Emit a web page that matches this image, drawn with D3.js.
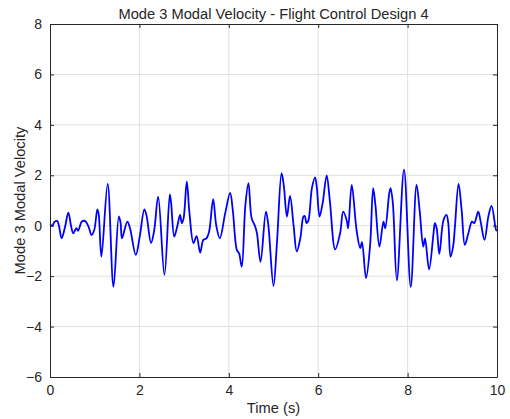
<!DOCTYPE html>
<html>
<head>
<meta charset="utf-8">
<script src="https://cdn.jsdelivr.net/npm/d3@7"></script>
<style>
  body { margin: 0; background: #fff; }
  text { font-family: "Liberation Sans", Arial, sans-serif; fill: #262626; }
</style>
</head>
<body>
<svg id="chart" width="510" height="419"></svg>
<script>
// time samples (s) and modal velocity
const time = [0.00,0.05,0.10,0.16,0.20,0.26,0.33,0.41,0.47,0.52,0.59,0.63,0.71,0.78,0.86,0.93,0.99,1.06,1.09,1.15,
  1.29,1.42,1.54,1.58,1.61,1.73,1.79,1.92,2.01,2.11,2.16,2.26,2.33,2.42,2.56,2.68,2.71,2.78,2.85,2.91,
  2.95,2.99,3.06,3.12,3.21,3.28,3.36,3.43,3.50,3.56,3.65,3.72,3.80,3.92,4.03,4.09,4.18,4.23,4.29,4.37,
  4.44,4.51,4.59,4.63,4.71,4.83,4.88,5.00,5.08,5.18,5.23,5.30,5.37,5.45,5.52,5.60,5.67,5.70,5.74,5.78,
  5.86,5.93,5.97,6.03,6.10,6.19,6.26,6.38,6.49,6.56,6.64,6.67,6.75,6.86,6.94,6.98,7.07,7.16,7.23,7.28,
  7.37,7.46,7.50,7.59,7.62,7.67,7.76,7.92,8.07,8.20,8.27,8.35,8.39,8.48,8.58,8.61,8.65,8.71,8.80,8.87,
  8.91,8.96,9.02,9.06,9.14,9.21,9.28,9.36,9.44,9.49,9.58,9.63,9.72,9.81,9.88,9.98,10.0];
const velocity = [0.05,0.0,0.15,0.19,0.0,-0.5,-0.1,0.52,0.0,-0.3,-0.1,-0.2,0.16,0.19,-0.03,-0.37,-0.17,0.65,0.45,-1.23,
  1.66,-2.42,0.37,0.1,-0.5,0.16,-0.1,-1.16,-0.4,0.65,0.4,-0.69,-0.2,1.15,-1.95,1.24,0.9,-0.43,0.0,0.43,
  0.1,0.3,1.75,0.5,-0.69,-0.41,-1.07,-0.56,-0.5,-0.23,1.05,0.0,-0.5,0.5,1.3,0.6,-0.96,-1.1,-1.62,0.8,
  1.69,0.3,-0.03,-0.3,-1.43,0.56,0.1,-2.39,-0.6,2.08,1.6,0.36,1.18,0.0,-1.02,-0.5,0.36,0.38,0.1,0.2,
  1.5,1.92,1.5,0.36,0.9,2.0,1.0,-0.94,-0.3,0.56,0.2,-0.1,1.62,-0.2,-0.89,-0.65,-2.08,-0.8,1.49,0.82,
  -0.83,0.16,-0.1,1.29,1.49,0.9,-2.17,2.22,-2.42,1.62,0.6,-0.83,-0.5,-1.73,-0.3,0.1,-0.1,-1.12,0.2,0.43,
  0.1,-1.23,-0.8,0.0,1.66,0.6,-0.76,-0.3,0.16,0.1,0.56,0.2,-0.56,0.4,0.79,-0.17,-0.2];
const xTicks = [0, 2, 4, 6, 8, 10];
const yTicks = [-6, -4, -2, 0, 2, 4, 6, 8];

const svg = d3.select("#chart");
const margin = { left: 50, right: 13, top: 24, bottom: 42 };
const width = 510, height = 419;

const x = d3.scaleLinear().domain([0, 10]).range([margin.left, width - margin.right]);
const y = d3.scaleLinear().domain([-6, 8]).range([height - margin.bottom, margin.top]);

// grid
const grid = svg.append("g").attr("stroke", "#dfdfdf").attr("stroke-width", 1);
grid.selectAll(".gx").data(xTicks.slice(1, -1)).enter().append("line")
  .attr("x1", d => x(d)).attr("x2", d => x(d))
  .attr("y1", y(-6)).attr("y2", y(8));
grid.selectAll(".gy").data(yTicks.slice(1, -1)).enter().append("line")
  .attr("x1", x(0)).attr("x2", x(10))
  .attr("y1", d => y(d)).attr("y2", d => y(d));

// signal
const line = d3.line()
  .x((d, i) => x(time[i]))
  .y(d => y(d))
  .curve(d3.curveCatmullRom.alpha(0.5));

svg.append("path")
  .datum(velocity)
  .attr("fill", "none")
  .attr("stroke", "#0000ff")
  .attr("stroke-width", 1.8)
  .attr("stroke-linejoin", "round")
  .attr("d", line);

// axes (ticks inside, box on)
const axisColor = "#262626";
function styleAxis(g) {
  g.select(".domain").attr("stroke", axisColor);
  g.selectAll(".tick line").attr("stroke", axisColor);
  g.selectAll(".tick text").style("font-size", "14px").attr("fill", axisColor);
}
svg.append("g").attr("transform", `translate(0,${y(-6)})`)
  .call(d3.axisBottom(x).tickValues(xTicks).tickSizeInner(-4).tickSizeOuter(0).tickPadding(8))
  .call(styleAxis);
svg.append("g").attr("transform", `translate(0,${y(8)})`)
  .call(d3.axisTop(x).tickValues(xTicks).tickSizeInner(-4).tickSizeOuter(0).tickFormat(""))
  .call(styleAxis);
svg.append("g").attr("transform", `translate(${x(0)},0)`)
  .call(d3.axisLeft(y).tickValues(yTicks).tickSizeInner(-4).tickSizeOuter(0).tickPadding(8))
  .call(styleAxis);
svg.append("g").attr("transform", `translate(${x(10)},0)`)
  .call(d3.axisRight(y).tickValues(yTicks).tickSizeInner(-4).tickSizeOuter(0).tickFormat(""))
  .call(styleAxis);

// labels
svg.append("text")
  .attr("x", (x(0) + x(10)) / 2).attr("y", 18.5)
  .attr("text-anchor", "middle").style("font-size", "14.7px")
  .text("Mode 3 Modal Velocity - Flight Control Design 4");
svg.append("text")
  .attr("x", (x(0) + x(10)) / 2).attr("y", 413)
  .attr("text-anchor", "middle").style("font-size", "14.7px")
  .text("Time (s)");
svg.append("text")
  .attr("transform", `translate(25,${(y(-6) + y(8)) / 2}) rotate(-90)`)
  .attr("text-anchor", "middle").style("font-size", "14.7px")
  .text("Mode 3 Modal Velocity");
</script>
</body>
</html>
